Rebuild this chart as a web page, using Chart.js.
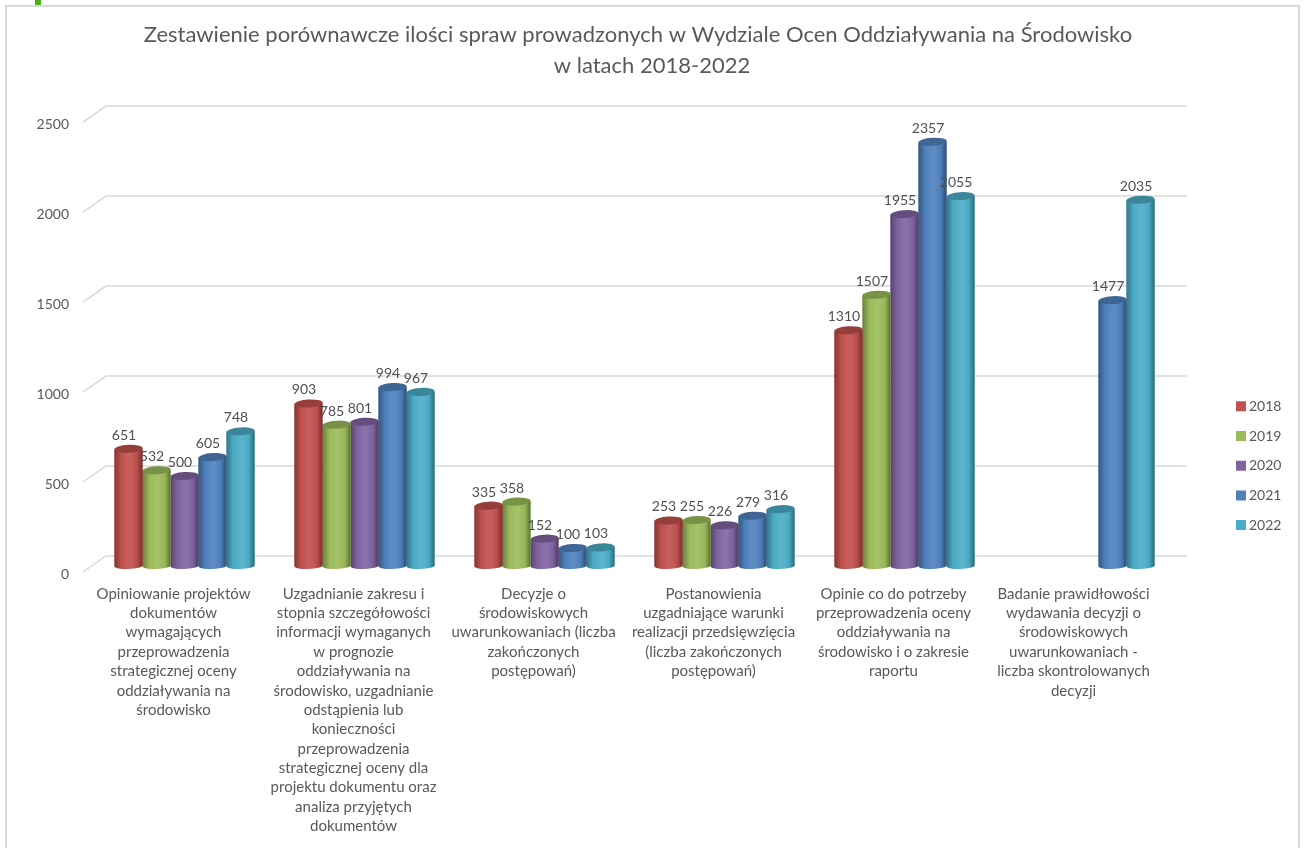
<!DOCTYPE html>
<html lang="pl">
<head>
<meta charset="utf-8">
<title>Zestawienie spraw 2018-2022</title>
<script src="https://cdn.jsdelivr.net/npm/chart.js@4"></script>
<style>
  html, body { margin: 0; padding: 0; background: #fff; overflow: hidden; }
  #ramka { position: absolute; left: 5px; top: 5px; width: 1291px; height: 900px; border: 2px solid #d9d9d9; }
  #znacznik { position: absolute; left: 35px; top: 0; width: 6px; height: 5px; background: #4cae12; }
  canvas { position: absolute; left: 0; top: 0; }
</style>
</head>
<body>
<div id="ramka"></div>
<div id="znacznik"></div>
<canvas id="wykres" width="1304" height="848"></canvas>
<script>
// Dane
const kategorie = [
  ["Opiniowanie projektów", "dokumentów", "wymagających", "przeprowadzenia", "strategicznej oceny", "oddziaływania na", "środowisko"],
  ["Uzgadnianie zakresu i", "stopnia szczegółowości", "informacji wymaganych", "w prognozie", "oddziaływania na", "środowisko, uzgadnianie", "odstąpienia lub", "konieczności", "przeprowadzenia", "strategicznej oceny dla", "projektu dokumentu oraz", "analiza przyjętych", "dokumentów"],
  ["Decyzje o", "środowiskowych", "uwarunkowaniach (liczba", "zakończonych", "postępowań)"],
  ["Postanowienia", "uzgadniające warunki", "realizacji przedsięwzięcia", "(liczba zakończonych", "postępowań)"],
  ["Opinie co do potrzeby", "przeprowadzenia oceny", "oddziaływania na", "środowisko i o zakresie", "raportu"],
  ["Badanie prawidłowości", "wydawania decyzji o", "środowiskowych", "uwarunkowaniach -", "liczba skontrolowanych", "decyzji"]
];
const rok2018 = [651, 903, 335, 253, 1310, null];
const rok2019 = [532, 785, 358, 255, 1507, null];
const rok2020 = [500, 801, 152, 226, 1955, null];
const rok2021 = [605, 994, 100, 279, 2357, 1477];
const rok2022 = [748, 967, 103, 316, 2055, 2035];
const lata = ["2018", "2019", "2020", "2021", "2022"];
const kolory = ["#c0504d", "#9bbb59", "#8064a2", "#4f81bd", "#4bacc6"];
const tytul = ["Zestawienie porównawcze ilości spraw prowadzonych w Wydziale Ocen Oddziaływania na Środowisko     ", "w latach 2018-2022"];

const kolorTekstu = "#595959";
const czcionka = "Lato, 'Open Sans', sans-serif";

// Przyciemnia lub rozjaśnia kolor hex
function odcien(hex, f) {
  const n = parseInt(hex.slice(1), 16);
  const kanal = (v) => Math.min(255, Math.round(f <= 1 ? v * f : v + (255 - v) * (f - 1)));
  return `rgb(${kanal(n >> 16)}, ${kanal((n >> 8) & 255)}, ${kanal(n & 255)})`;
}

// Linie siatki "3D": tylna ściana + skos do przedniej krawędzi
const siatka3d = {
  id: "siatka3d",
  beforeDatasetsDraw(chart) {
    const { ctx, chartArea: a, scales: { y } } = chart;
    ctx.save();
    ctx.strokeStyle = "#d9d9d9";
    ctx.lineWidth = 1.5;
    y.ticks.forEach((t) => {
      const py = y.getPixelForValue(t.value);
      ctx.beginPath();
      ctx.moveTo(a.left - 11.5, py + 6);
      ctx.lineTo(a.left + 11.5, py - 10);
      ctx.lineTo(a.right + 12.5, py - 10);
      ctx.stroke();
    });
    ctx.restore();
  }
};

// Walce zamiast płaskich słupków
const walce = {
  id: "walce",
  afterDatasetDraw(chart, args) {
    const { ctx } = chart;
    const kolor = kolory[args.index];
    args.meta.data.forEach((bar, i) => {
      if (chart.data.datasets[args.index].data[i] == null) return;
      const rx = bar.width / 2;
      const lewa = bar.x - rx;
      const g = ctx.createLinearGradient(lewa, 0, lewa + bar.width, 0);
      g.addColorStop(0, odcien(kolor, 0.68));
      g.addColorStop(0.25, odcien(kolor, 1));
      g.addColorStop(0.55, odcien(kolor, 1.1));
      g.addColorStop(0.8, odcien(kolor, 0.98));
      g.addColorStop(1, odcien(kolor, 0.6));
      ctx.save();
      ctx.fillStyle = g;
      ctx.beginPath();
      ctx.moveTo(lewa, bar.y + 1);
      ctx.lineTo(lewa, bar.base);
      ctx.ellipse(bar.x, bar.base, rx, 3, -0.04, Math.PI, 0, true);
      ctx.lineTo(lewa + bar.width, bar.y - 1);
      ctx.closePath();
      ctx.fill();
      ctx.fillStyle = odcien(kolor, 0.78);
      ctx.beginPath();
      ctx.ellipse(bar.x, bar.y, rx, 4, -0.06, 0, Math.PI * 2);
      ctx.fill();
      ctx.restore();
    });
  }
};

// Etykiety wartości nad walcami
const etykiety = {
  id: "etykiety",
  afterDatasetsDraw(chart) {
    const { ctx } = chart;
    ctx.save();
    ctx.font = `14px ${czcionka}`;
    ctx.fillStyle = "#505050";
    ctx.textAlign = "center";
    ctx.textBaseline = "middle";
    chart.data.datasets.forEach((ds, d) => {
      chart.getDatasetMeta(d).data.forEach((bar, i) => {
        if (ds.data[i] == null) return;
        ctx.fillText(ds.data[i], bar.x - 4.5, bar.y - 13.5);
      });
    });
    ctx.restore();
  }
};

// Tytuł na całą szerokość, legenda po prawej na wysokości jak w oryginale
const pozycjeBlokow = {
  id: "pozycjeBlokow",
  afterLayout(chart) {
    const t = chart.titleBlock;
    t.left = 0;
    t.right = 1304;
    const l = chart.legend;
    l.left = 1224.3;
    l.right = 1304;
    l.top = 383.6;
    l.bottom = 848;
  }
};

new Chart(document.getElementById("wykres"), {
  type: "bar",
  data: {
    labels: kategorie,
    datasets: [rok2018, rok2019, rok2020, rok2021, rok2022].map((d, i) => ({
      label: lata[i],
      data: d,
      backgroundColor: kolory[i],
      categoryPercentage: 0.778,
      barPercentage: 1
    }))
  },
  options: {
    responsive: false,
    animation: false,
    layout: { padding: { left: 0, right: 129.5, top: 0, bottom: 0 } },
    scales: {
      x: {
        grid: { display: false, drawTicks: false },
        border: { display: false },
        afterFit(s) { s.height = 282; },
        ticks: {
          autoSkip: false,
          maxRotation: 0,
          minRotation: 0,
          padding: 18,
          labelOffset: -11,
          color: kolorTekstu,
          font: { family: czcionka, size: 15, lineHeight: 1.293 }
        }
      },
      y: {
        min: 0,
        max: 2500,
        grid: { display: false, drawTicks: false },
        border: { display: false },
        afterFit(s) { s.width = 94.5; },
        ticks: {
          stepSize: 500,
          padding: 25.5,
          labelOffset: 8.5,
          callback: (v) => String(v),
          color: kolorTekstu,
          font: { family: czcionka, size: 14 }
        }
      }
    },
    plugins: {
      title: {
        display: true,
        text: tytul,
        color: kolorTekstu,
        font: { family: czcionka, size: 22, weight: "normal", lineHeight: 1.41 },
        padding: { top: 19.5, bottom: 34.5 }
      },
      legend: {
        position: "chartArea",
        align: "start",
        labels: {
          boxWidth: 2,
          boxHeight: 2,
          padding: 15.7,
          color: kolorTekstu,
          font: { family: czcionka, size: 14 },
          // gruba ramka daje kwadrat 10x10 z mniejszym odstępem od tekstu
          generateLabels(chart) {
            return Chart.defaults.plugins.legend.labels.generateLabels(chart).map((p) => ({
              ...p,
              strokeStyle: p.fillStyle,
              lineWidth: 8
            }));
          }
        }
      },
      tooltip: { enabled: false }
    }
  },
  plugins: [siatka3d, walce, etykiety, pozycjeBlokow]
});
</script>
</body>
</html>
